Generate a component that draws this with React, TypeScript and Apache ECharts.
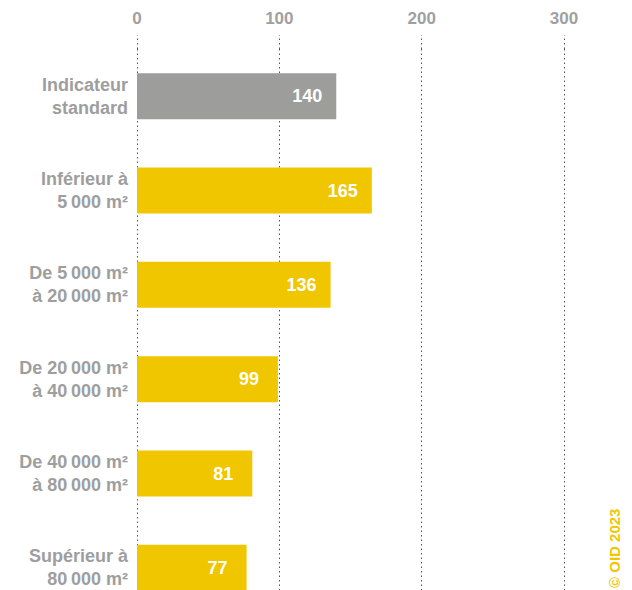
import React, { useEffect, useRef } from "react";
import * as echarts from "echarts";

const categories = [
  "Indicateur\nstandard",
  "Inférieur à\n5\u202F000 m²",
  "De 5\u202F000 m²\nà 20\u202F000 m²",
  "De 20\u202F000 m²\nà 40\u202F000 m²",
  "De 40\u202F000 m²\nà 80\u202F000 m²",
  "Supérieur à\n80\u202F000 m²",
];
const values = [140, 165, 136, 99, 81, 77];
const barColors = ["#9d9d9c", "#f0c600", "#f0c600", "#f0c600", "#f0c600", "#f0c600"];
const xTicks = [0, 100, 200, 300];

const FONT = "'Liberation Sans', Arial, Helvetica, sans-serif";

export default function App() {
  const ref = useRef<HTMLDivElement>(null);
  useEffect(() => {
    if (!ref.current) return;
    const chart = echarts.init(ref.current, null, { renderer: "svg" });
    chart.setOption({
      animation: false,
      backgroundColor: "#ffffff",
      grid: {
        left: 137,
        right: 68,
        top: 49,
        height: 566,
        containLabel: false,
        outerBoundsMode: "none",
      },
      xAxis: {
        type: "value",
        position: "top",
        min: xTicks[0],
        max: xTicks[xTicks.length - 1],
        interval: 100,
        axisLine: { show: false },
        axisTick: {
          show: true,
          length: 14,
          lineStyle: { color: "#555555", type: [1.5, 3], width: 1 },
        },
        axisLabel: {
          margin: 22,
          color: "#a0a0a0",
          fontFamily: FONT,
          fontWeight: "bold",
          fontSize: 17,
        },
        splitLine: {
          show: true,
          lineStyle: { color: "#555555", type: [1.5, 3], width: 1 },
        },
      },
      yAxis: {
        type: "category",
        inverse: true,
        data: categories,
        axisLine: { show: false },
        axisTick: { show: false },
        axisLabel: {
          margin: 9,
          color: "#9e9e9e",
          fontFamily: FONT,
          fontWeight: "bold",
          fontSize: 18,
          lineHeight: 23,
          align: "right",
        },
      },
      series: [
        {
          type: "bar",
          barWidth: 46,
          data: values.map((v, i) => ({ value: v, itemStyle: { color: barColors[i] } })),
          label: {
            show: true,
            position: "insideRight",
            distance: 29,
            align: "center",
            color: "#ffffff",
            fontFamily: FONT,
            fontWeight: "bold",
            fontSize: 18,
          },
        },
      ],
      graphic: [
        {
          type: "text",
          x: 607,
          y: 588,
          rotation: Math.PI / 2,
          style: {
            text: "© OID 2023",
            fill: "#f0c600",
            font: `bold 15px ${FONT}`,
            textAlign: "left",
            textVerticalAlign: "top",
          },
        },
      ],
    });
    return () => chart.dispose();
  }, []);
  return (
    <div
      ref={ref}
      style={{ position: "absolute", left: 0, top: 0, width: 632, height: 590 }}
    />
  );
}
